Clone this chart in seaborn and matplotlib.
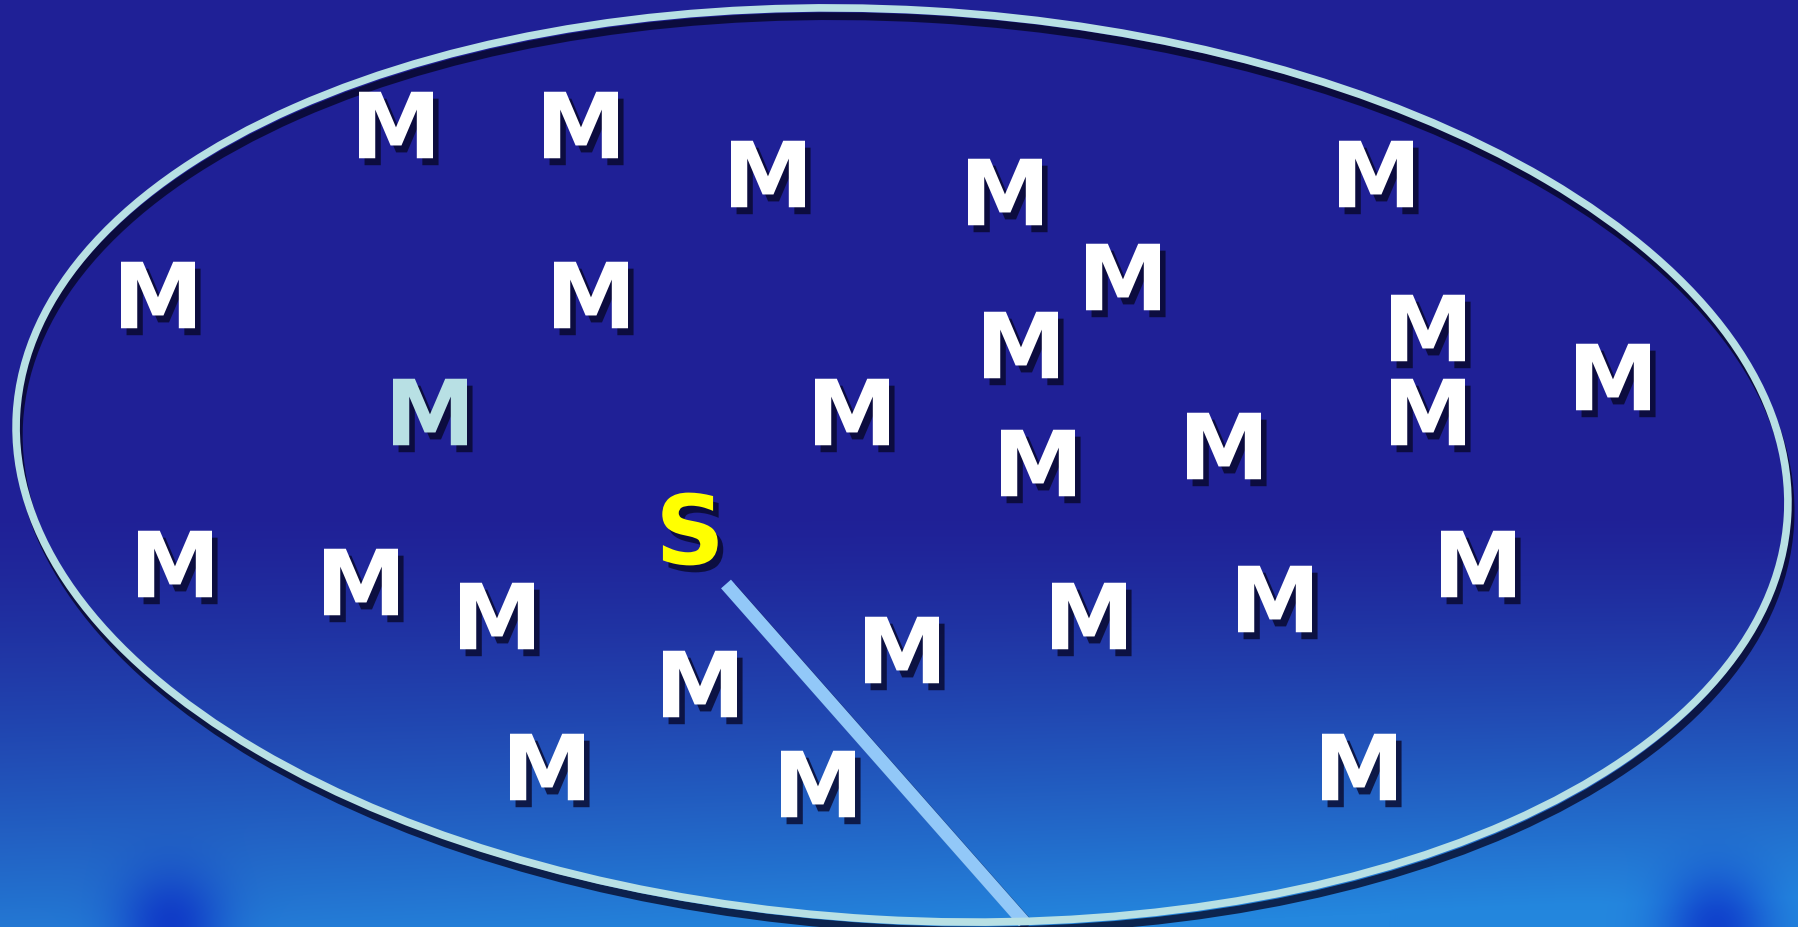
import numpy as np
import matplotlib
matplotlib.use("Agg")
import matplotlib.pyplot as plt
import matplotlib.patheffects as pe
from matplotlib.patches import Ellipse
import seaborn as sns

# letter positions (pixel coords of the slide, y downwards)
m_x = [396, 581, 768, 1005, 1376, 158, 591, 1123, 1021, 1428, 1613, 430, 852, 1428,
       1038, 1224, 175, 361, 497, 1275, 1478, 1089, 902, 700, 547, 818, 1359]
m_y = [126, 126, 175, 193, 175, 296, 296, 278, 346, 329, 378, 413, 413, 413,
       464, 447, 565, 583, 617, 600, 565, 617, 651, 685, 768, 785, 768]
m_kind = ["plain"] * len(m_x)
m_kind[11] = "light"

s_x = [690]
s_y = [530]

# pointer from S down to the rim of the ellipse
pointer_x = [726, 1024]
pointer_y = [585, 923]

W, H = 1798, 928

sns.set_theme(style="white")
fig = plt.figure(figsize=(17.98, 9.28), dpi=100)
ax = fig.add_axes([0, 0, 1, 1])

# slide background: dark blue on top, lighter blue towards the bottom
yy = np.linspace(0, 1, H)[:, None]
xx = np.linspace(0, 1, W)[None, :]
top = np.array([31, 32, 150]) / 255
bot = np.array([36, 135, 222]) / 255
t = np.clip((yy - 0.55) / 0.45, 0, 1) ** 1.3
t = t * (0.85 + 0.25 * xx)
t = np.clip(t, 0, 1)
bg = top[None, None, :] * (1 - t[..., None]) + bot[None, None, :] * t[..., None]
# darker blobs in the bottom corners
for cx, cy in [(0.095, 1.0), (0.955, 1.0)]:
    d = np.exp(-(((xx - cx) / 0.03) ** 2 + ((yy - cy) / 0.06) ** 2))
    bg = bg * (1 - 0.55 * d[..., None]) + np.array([0, 10, 190])[None, None, :] / 255 * 0.55 * d[..., None]
ax.imshow(bg, extent=(0, W, H, 0), aspect="auto", zorder=0)

# pointer line
sns.lineplot(x=pointer_x, y=pointer_y, sort=False, estimator=None, color="#92C8F8",
             linewidth=9.5, ax=ax, zorder=2)
ax.lines[-1].set_solid_capstyle("butt")
ax.lines[-1].set_path_effects([pe.SimpleLineShadow(offset=(3, -3), shadow_color="#0a0a30", alpha=0.5),
                               pe.Normal()])

# the big ellipse
ell = Ellipse((902, 466), width=2 * 887, height=2 * 455, angle=3.3, fill=False,
              edgecolor="#B8E0E4", linewidth=5.5, zorder=3)
ell.set_path_effects([pe.SimpleLineShadow(offset=(2, -6), shadow_color="#050520", alpha=0.75),
                      pe.Normal()])
ax.add_patch(ell)

shadow = [pe.SimplePatchShadow(offset=(4, -5), shadow_rgbFace="#08082a", alpha=0.8), pe.Normal()]

sns.scatterplot(x=m_x, y=m_y, hue=m_kind, palette={"plain": "#FFFFFF", "light": "#B8E0E4"},
                marker=r"$\mathbf{M}$", s=2840, linewidth=0, edgecolor="none",
                legend=False, ax=ax, zorder=4)
ax.collections[-1].set_path_effects(shadow)

sns.scatterplot(x=s_x, y=s_y, color="#FFFF00", marker=r"$\mathbf{S}$", s=2750,
                linewidth=0, edgecolor="none", legend=False, ax=ax, zorder=4)
ax.collections[-1].set_path_effects(shadow)

ax.set_xlim(0, W)
ax.set_ylim(H, 0)
ax.axis("off")

fig.savefig("out.png", dpi=100)
